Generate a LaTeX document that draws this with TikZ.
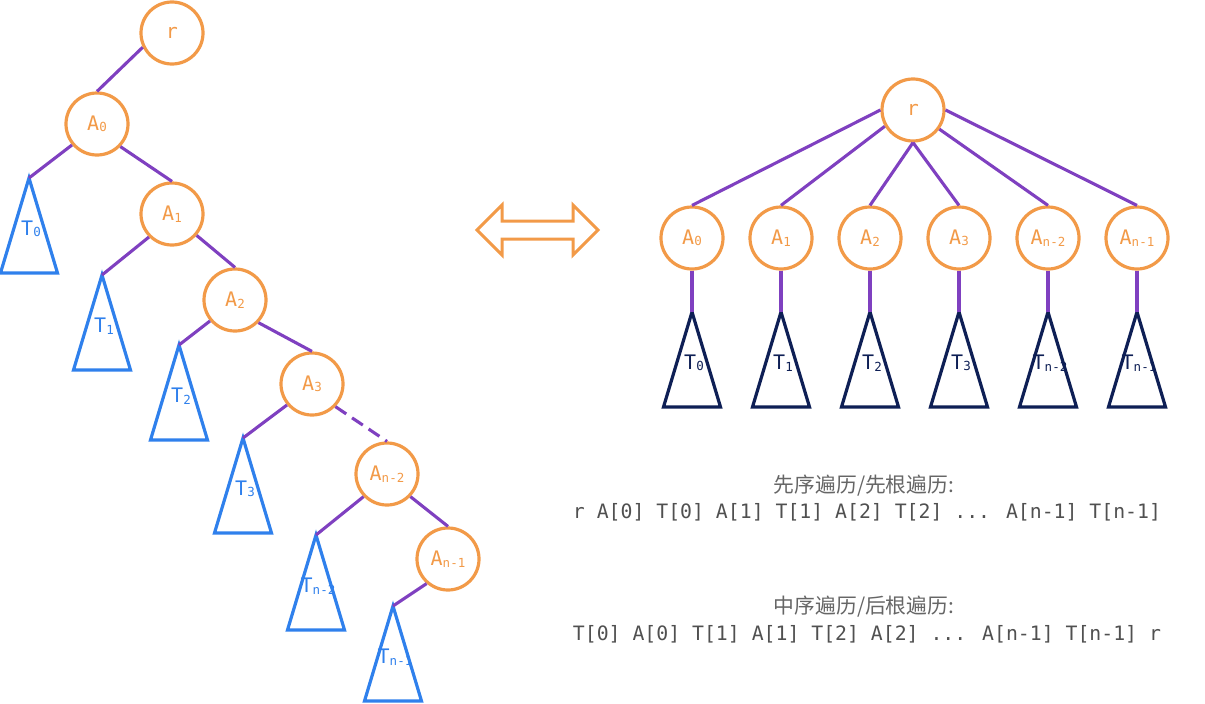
\documentclass[tikz,border=0pt]{standalone}
\usepackage{fontspec}
\newfontfamily\monof{DejaVu Sans Mono}
\newfontfamily\cjkf{Noto Sans CJK SC}
\definecolor{corange}{HTML}{F29A48}
\definecolor{cpurple}{HTML}{7F40C0}
\definecolor{cblue}{HTML}{2F80EC}
\definecolor{cnavy}{HTML}{0E1F55}
\definecolor{cgray}{HTML}{505050}
\definecolor{cgrayl}{HTML}{666666}
\newcommand{\lbl}[2]{#1{\fontsize{12.5}{12.5}\selectfont\raisebox{-1.5pt}{#2}}}
\newcommand{\drawtri}[5]{%
  \coordinate (#1) at (#2,#3);
  \draw[tri,draw=#4] (#1) -- ++(-28.5,95) -- ++(57,0) -- cycle;
  \node[tlab,text=#4] (#1lab) at (#2+2,#3+51) {#5};
}
\begin{document}
\begin{tikzpicture}[x=1pt,y=-1pt,
  circ/.style={circle, draw=corange, line width=3.2pt, minimum size=62pt, inner sep=0pt,
               text=corange, font=\monof\fontsize{20}{20}\selectfont},
  edge/.style={draw=cpurple, line width=3.1pt},
  tri/.style={line width=3.2pt, line join=miter},
  tlab/.style={inner sep=0pt, font=\monof\fontsize{20}{20}\selectfont},
  cjktxt/.style={text=cgrayl, inner sep=0pt, font=\cjkf\fontsize{20.8}{21}\selectfont},
  monotxt/.style={text=cgray, inner sep=0pt, font=\monof\fontsize{19.8}{20}\selectfont},
  dblarrow/.style={draw=corange, line width=3pt, line join=miter}
]
\useasboundingbox (0,0) rectangle (1205,704);

% ---------- left tree ----------
\node[circ] (rL) at (172,33) {r};
\node[circ] (aL0) at (97,124) {\lbl{A}{0}};
\node[circ] (aL1) at (172,214) {\lbl{A}{1}};
\node[circ] (aL2) at (235,300) {\lbl{A}{2}};
\node[circ] (aL3) at (312,384) {\lbl{A}{3}};
\node[circ] (aL4) at (387,474) {\lbl{A}{n-2}};
\node[circ] (aL5) at (448,559) {\lbl{A}{n-1}};

\drawtri{tL0}{29}{178}{cblue}{\lbl{T}{0}}
\drawtri{tL1}{102}{275}{cblue}{\lbl{T}{1}}
\drawtri{tL2}{179}{345}{cblue}{\lbl{T}{2}}
\drawtri{tL3}{243}{438}{cblue}{\lbl{T}{3}}
\drawtri{tL4}{316}{535}{cblue}{\lbl{T}{n-2}}
\drawtri{tL5}{393}{606}{cblue}{\lbl{T}{n-1}}

\draw[edge] (rL.206) -- (aL0.north);
\draw[edge] (aL0.220) -- (tL0);
\draw[edge] (aL0.-44) -- (aL1.north);
\draw[edge] (aL1.225) -- (tL1);
\draw[edge] (aL1.-41) -- (aL2.north);
\draw[edge] (aL2.220) -- (tL2);
\draw[edge] (aL2.-44) -- (aL3.north);
\draw[edge] (aL3.220) -- (tL3);
\draw[edge, dash pattern=on 13pt off 7pt] (aL3.-44) -- (aL4.north);
\draw[edge] (aL4.224) -- (tL4);
\draw[edge] (aL4.-44) -- (aL5.north);
\draw[edge] (aL5.229) -- (tL5);

% ---------- double arrow ----------
\draw[dblarrow] (477,230) -- (502,205) -- (502,221) -- (573,221) -- (573,205) -- (598,230)
  -- (573,255) -- (573,239) -- (502,239) -- (502,255) -- cycle;

% ---------- right tree ----------
\node[circ] (rR) at (913,110) {r};
\foreach \i/\lab in {0/0,1/1,2/2,3/3,4/n-2,5/n-1} {
  \node[circ] (aR\i) at (692+89*\i,238) {\lbl{A}{\lab}};
  \drawtri{tR\i}{692+89*\i}{312}{cnavy}{\lbl{T}{\lab}}
  \draw[edge] (aR\i.south) -- (tR\i);
}
\draw[edge] (rR.west) -- (aR0.north);
\draw[edge] (rR.210) -- (aR1.north);
\draw[edge] (rR.south) -- (aR2.north);
\draw[edge] (rR.south) -- (aR3.north);
\draw[edge] (rR.-36) -- (aR4.north);
\draw[edge] (rR.east) -- (aR5.north);

% ---------- texts ----------
\node[cjktxt] (h1) at (864,486) {先序遍历/先根遍历:};
\node[monotxt] (l1) at (867,512) {r A[0] T[0] A[1] T[1] A[2] T[2] ... A[n-1] T[n-1]};
\node[cjktxt] (h2) at (864,607) {中序遍历/后根遍历:};
\node[monotxt] (l2) at (867,634) {T[0] A[0] T[1] A[1] T[2] A[2] ... A[n-1] T[n-1] r};
\end{tikzpicture}
\end{document}
